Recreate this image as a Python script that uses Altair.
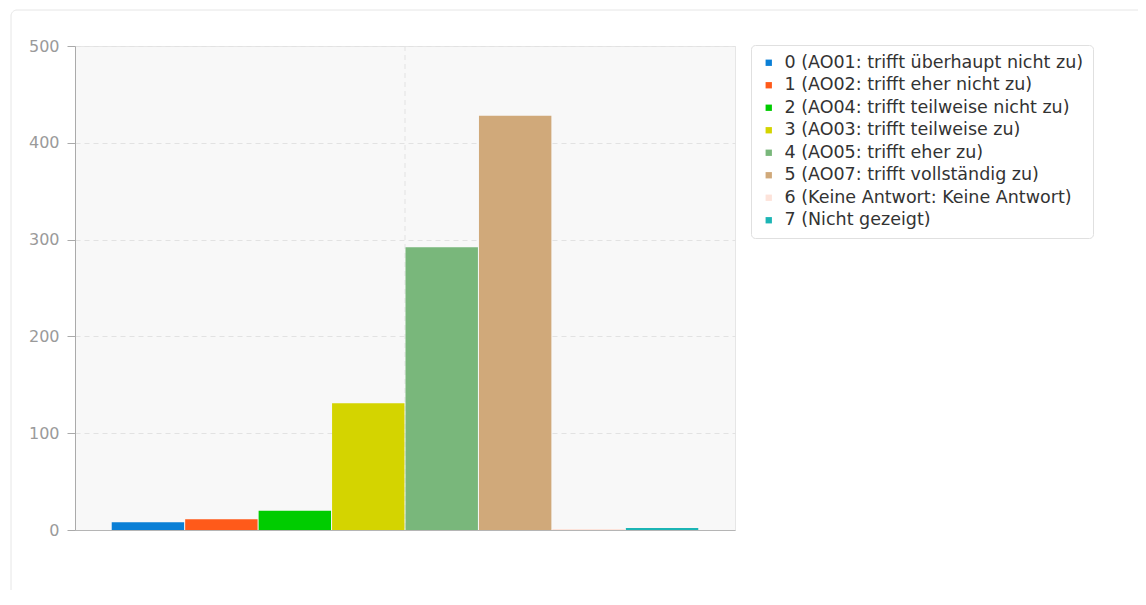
import altair as alt
import pandas as pd

labels = [
    "0 (AO01: trifft überhaupt nicht zu)",
    "1 (AO02: trifft eher nicht zu)",
    "2 (AO04: trifft teilweise nicht zu)",
    "3 (AO03: trifft teilweise zu)",
    "4 (AO05: trifft eher zu)",
    "5 (AO07: trifft vollständig zu)",
    "6 (Keine Antwort: Keine Antwort)",
    "7 (Nicht gezeigt)",
]
values = [8, 11, 20, 131, 292, 428, 1, 2]
colors = ["#0a7fd6", "#ff5a1a", "#00cc00", "#d4d400", "#79b77b", "#d0a97a", "#fde3da", "#1cb5b5"]
y_ticks = [0, 100, 200, 300, 400, 500]

df = pd.DataFrame({"label": labels, "value": values})

W, H = 660, 484

x = alt.X(
    "label:N", sort=labels,
    scale=alt.Scale(paddingInner=0.014, paddingOuter=0.5),
    axis=alt.Axis(labels=False, ticks=False, title=None, domainColor="#b5b5b5", grid=False),
)
y = alt.Y(
    "value:Q",
    scale=alt.Scale(domain=[0, 500], nice=False),
    axis=alt.Axis(values=y_ticks, title=None, labelColor="#9a9a9a", labelFontSize=16,
                  tickColor="#aaaaaa", tickSize=8, domainColor="#aaaaaa",
                  gridColor="#e2e2e2", gridDash=[5, 4], labelPadding=8),
)

card = alt.Chart(pd.DataFrame({"a": [0]})).mark_rect(
    fill="white", fillOpacity=0, stroke="#e6e6e6", strokeWidth=1, cornerRadius=6
).encode(x=alt.value(-64), x2=alt.value(1080), y=alt.value(-36), y2=alt.value(580))

vgrid = alt.Chart(pd.DataFrame({"a": [0]})).mark_rule(
    color="#e2e2e2", strokeDash=[5, 4]
).encode(x=alt.value(W / 2), y=alt.value(0), y2=alt.value(H))

bars = alt.Chart(df).mark_bar().encode(
    x=x,
    y=y,
    color=alt.Color(
        "label:N", sort=labels,
        scale=alt.Scale(domain=labels, range=colors),
        legend=alt.Legend(
            title=None, orient="none", legendX=676, legendY=-1,
            fillColor="white", strokeColor="#e0e0e0", cornerRadius=4, padding=9,
            labelFontSize=17.5, labelColor="#333333", symbolType="square", symbolSize=40,
            rowPadding=3.5, labelLimit=0, symbolStrokeWidth=0, labelOffset=7,
        ),
    ),
)

chart = alt.layer(card, vgrid, bars).properties(
    width=W, height=H,
    padding={"left": 67, "top": 38, "right": 403, "bottom": 60},
    autosize=alt.AutoSizeParams(type="none"),
).configure(font="DejaVu Sans").configure_view(
    stroke="#e6e6e6", fill="#f8f8f8"
)

chart.save("out.html", embed_options={"renderer": "svg", "actions": False})
